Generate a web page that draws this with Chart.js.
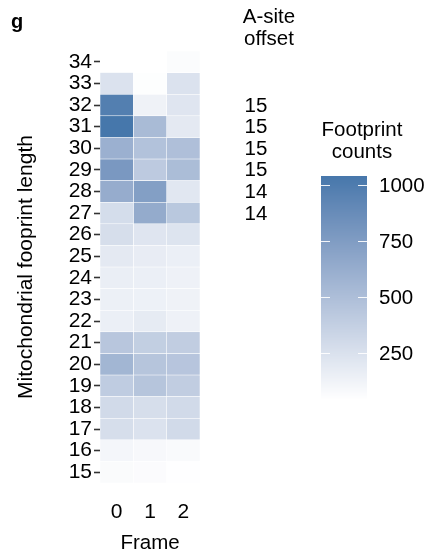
<!DOCTYPE html>
<html>
<head>
<meta charset="utf-8">
<script src="https://cdn.jsdelivr.net/npm/chart.js@4.4.1/dist/chart.umd.min.js"></script>
<style>
  html, body { margin: 0; padding: 0; background: #fff; }
  canvas { display: block; }
</style>
</head>
<body>
<canvas id="heat" width="430" height="556"></canvas>
<script>
// Footprint lengths (rows) and reading frames (columns)
const lengths = [15, 16, 17, 18, 19, 20, 21, 22, 23, 24, 25, 26, 27, 28, 29, 30, 31, 32, 33, 34];
const frames = ['0', '1', '2'];

// Footprint counts per length, one array per frame (null = no tile)
const frame0 = [70, 100, 270, 300, 400, 560, 440, 150, 145, 155, 190, 270, 280, 630, 780, 600, 1040, 980, 240, null];
const frame1 = [65, 85, 240, 270, 450, 450, 380, 180, 140, 150, 170, 220, 640, 730, 410, 470, 520, 130, 50, null];
const frame2 = [45, 75, 300, 300, 390, 445, 390, 135, 130, 135, 150, 230, 430, 210, 510, 490, 190, 220, 240, 60];

// A-site offsets printed beside the heatmap
const offsetLengths = [32, 31, 30, 29, 28, 27];
const offsetValues = [15, 15, 15, 15, 14, 14];

// Colour bar range and ticks
const countMin = 40;
const countMax = 1040;
const legendTicks = [250, 500, 750, 1000];

const FONT = '"Liberation Sans", Arial, sans-serif';

// --- colour scale: white -> steel blue, interpolated in Lab ---
function srgbToLin(c) { c /= 255; return c <= 0.04045 ? c / 12.92 : Math.pow((c + 0.055) / 1.055, 2.4); }
function linToSrgb(c) { c = c <= 0.0031308 ? 12.92 * c : 1.055 * Math.pow(c, 1 / 2.4) - 0.055; return Math.round(Math.max(0, Math.min(1, c)) * 255); }
function rgbToLab(r, g, b) {
  r = srgbToLin(r); g = srgbToLin(g); b = srgbToLin(b);
  let x = (r * 0.4124 + g * 0.3576 + b * 0.1805) / 0.95047;
  let y = (r * 0.2126 + g * 0.7152 + b * 0.0722);
  let z = (r * 0.0193 + g * 0.1192 + b * 0.9505) / 1.08883;
  const f = t => t > 0.008856 ? Math.cbrt(t) : 7.787 * t + 16 / 116;
  x = f(x); y = f(y); z = f(z);
  return [116 * y - 16, 500 * (x - y), 200 * (y - z)];
}
function labToRgb(L, a, bb) {
  let y = (L + 16) / 116, x = a / 500 + y, z = y - bb / 200;
  const fi = t => t * t * t > 0.008856 ? t * t * t : (t - 16 / 116) / 7.787;
  x = fi(x) * 0.95047; y = fi(y); z = fi(z) * 1.08883;
  const r = x * 3.2406 + y * -1.5372 + z * -0.4986;
  const g = x * -0.9689 + y * 1.8758 + z * 0.0415;
  const b = x * 0.0557 + y * -0.2040 + z * 1.0570;
  return [linToSrgb(r), linToSrgb(g), linToSrgb(b)];
}
const lowLab = rgbToLab(255, 255, 255);
const highLab = rgbToLab(0x46, 0x77, 0xab);
function countColour(v) {
  const t = Math.max(0, Math.min(1, (v - countMin) / (countMax - countMin)));
  const lab = lowLab.map((c, i) => c + (highLab[i] - c) * t);
  const [r, g, b] = labToRgb(lab[0], lab[1], lab[2]);
  return `rgb(${r},${g},${b})`;
}

// each frame becomes a floating horizontal bar spanning [frame, frame + 1]
function frameDataset(counts, col) {
  return {
    label: frames[col],
    data: counts.map(v => v == null ? null : [col, col + 1]),
    backgroundColor: counts.map(v => v == null ? 'rgba(0,0,0,0)' : countColour(v)),
    borderColor: 'rgba(255,255,255,0.9)',
    borderWidth: 0.6,
    borderSkipped: false,
    barPercentage: 1,
    categoryPercentage: 1
  };
}

// text and colour bar drawn beside the plot
const sidePanel = {
  id: 'sidePanel',
  afterDraw(chart) {
    const ctx = chart.ctx;
    const yScale = chart.scales.y;
    ctx.save();
    ctx.fillStyle = '#000';

    // panel letter
    ctx.font = `bold 20px ${FONT}`;
    ctx.textAlign = 'left';
    ctx.textBaseline = 'middle';
    ctx.fillText('g', 11, 22);

    // A-site offset column
    ctx.font = `20.5px ${FONT}`;
    ctx.textAlign = 'center';
    ctx.fillText('A-site', 269, 17);
    ctx.fillText('offset', 269, 39);
    offsetLengths.forEach((len, i) => {
      const y = yScale.getPixelForValue(lengths.indexOf(len));
      ctx.fillText(String(offsetValues[i]), 256, y + 1);
    });

    // colour bar
    const barX = 321, barW = 46, barTop = 176, barBottom = 400;
    const valToY = v => barBottom - (v - countMin) / (countMax - countMin) * (barBottom - barTop);
    for (let y = barTop; y < barBottom; y++) {
      const v = countMax - (y - barTop + 0.5) / (barBottom - barTop) * (countMax - countMin);
      ctx.fillStyle = countColour(v);
      ctx.fillRect(barX, y, barW, 1);
    }
    ctx.fillStyle = '#000';
    ctx.fillText('Footprint', 362, 130);
    ctx.fillText('counts', 362, 152);
    ctx.textAlign = 'left';
    ctx.strokeStyle = 'rgba(255,255,255,0.9)';
    ctx.lineWidth = 1;
    legendTicks.forEach(v => {
      const y = Math.round(valToY(v)) + 0.5;
      ctx.beginPath();
      ctx.moveTo(barX, y); ctx.lineTo(barX + 9, y);
      ctx.moveTo(barX + barW - 9, y); ctx.lineTo(barX + barW, y);
      ctx.stroke();
      ctx.fillText(String(v), 379, y + 1);
    });
    ctx.restore();
  }
};

new Chart(document.getElementById('heat'), {
  type: 'bar',
  data: {
    labels: lengths.map(String),
    datasets: [frameDataset(frame0, 0), frameDataset(frame1, 1), frameDataset(frame2, 2)]
  },
  options: {
    indexAxis: 'y',
    responsive: false,
    animation: false,
    layout: { padding: { left: 0, right: 230, top: 51, bottom: 0 } },
    plugins: { legend: { display: false }, tooltip: { enabled: false } },
    scales: {
      y: {
        type: 'category',
        reverse: true,
        stacked: true,
        border: { display: false },
        grid: { offset: false, drawOnChartArea: false, drawTicks: true, tickLength: 6, tickColor: '#333', tickWidth: 1.6 },
        ticks: { color: '#000', font: { family: FONT, size: 21 }, padding: 2, autoSkip: false },
        title: { display: true, text: 'Mitochondrial fooprint length', color: '#000', font: { family: FONT, size: 21 }, padding: { top: 14, bottom: 0 } },
        afterFit(scale) { scale.width = 100; }
      },
      x: {
        type: 'linear',
        min: 0,
        max: 3,
        stacked: false,
        border: { display: false },
        grid: { display: false, drawTicks: false },
        afterBuildTicks(scale) { scale.ticks = frames.map((f, i) => ({ value: i + 0.5 })); },
        ticks: { color: '#000', font: { family: FONT, size: 21 }, padding: 17, callback: v => String(v - 0.5) },
        title: { display: true, text: 'Frame', color: '#000', font: { family: FONT, size: 20.5 }, padding: { top: 9, bottom: 0 } },
        afterFit(scale) { scale.height = 73; }
      }
    }
  },
  plugins: [sidePanel]
});
</script>
</body>
</html>
